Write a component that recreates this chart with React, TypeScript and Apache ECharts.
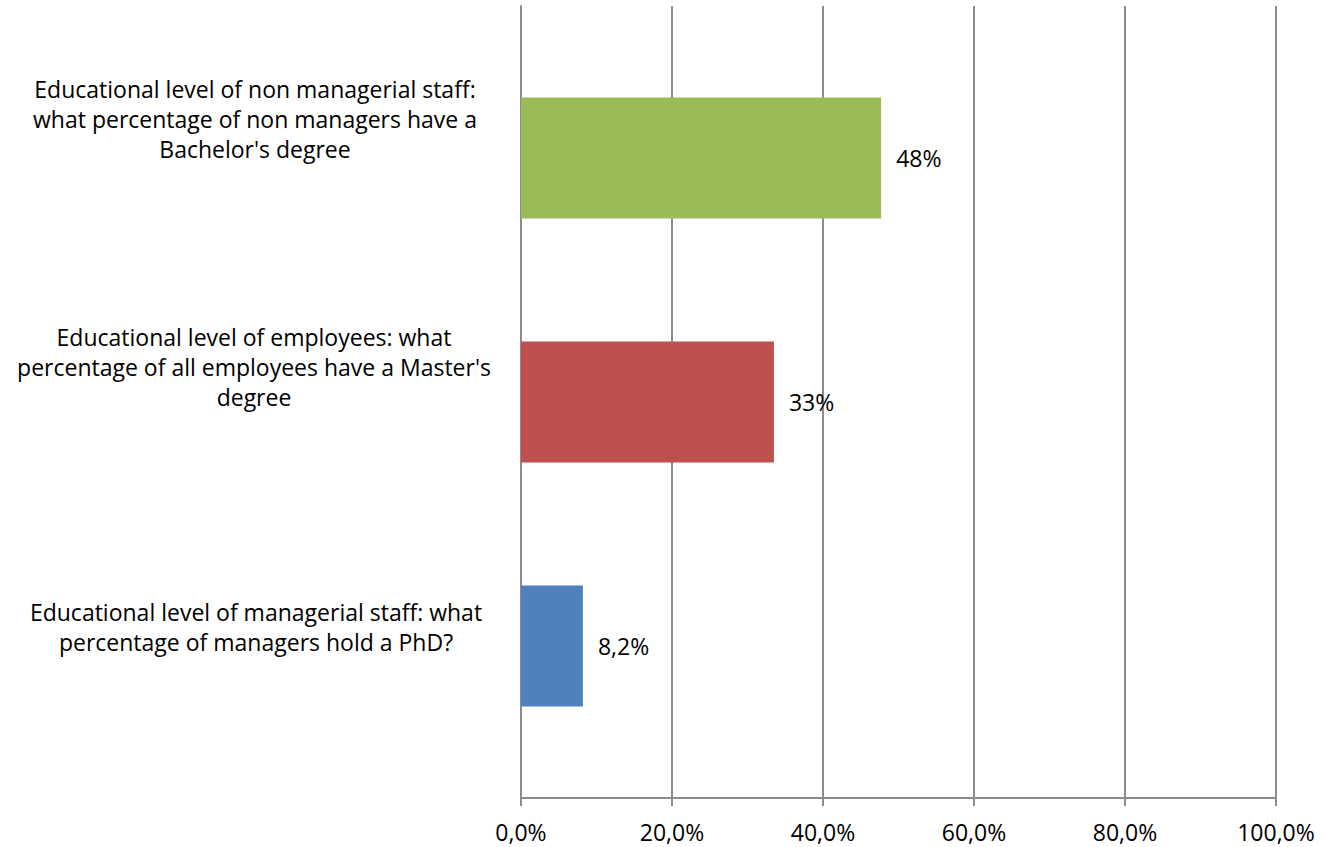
import React, { useEffect, useRef } from "react";
import * as echarts from "echarts";

// Data (top to bottom, as drawn)
const seriesNames = [
  "Educational level of non managerial staff:\nwhat percentage of non managers have a\nBachelor's degree",
  "Educational level of employees: what\npercentage of all employees have a Master's\ndegree",
  "Educational level of managerial staff: what\npercentage of managers hold a PhD?",
];
const values = [47.7, 33.5, 8.2];
const dataLabels = ["48%", "33%", "8,2%"];
const colors = ["#9BBB59", "#C0504D", "#4F81BD"];
const xTicks = [0, 20, 40, 60, 80, 100];

// text box layout (centre of each label block)
const labelBoxes = [
  { x: 255, y: 119 },
  { x: 254, y: 367 },
  { x: 256, y: 627 },
];

const FONT = "'Open Sans', 'Noto Sans', sans-serif";
const FS = 23;

export default function App() {
  const ref = useRef<HTMLDivElement>(null);
  useEffect(() => {
    if (!ref.current) return;
    const chart = echarts.init(ref.current, null, { renderer: "svg" });
    const option: any = {
      animation: false,
      backgroundColor: "#ffffff",
      textStyle: { fontFamily: FONT },
      grid: { left: 521, right: 48, top: 6, bottom: 49, containLabel: false },
      xAxis: {
        type: "value",
        min: xTicks[0],
        max: xTicks[xTicks.length - 1],
        interval: 20,
        axisLine: { show: true, lineStyle: { color: "#8c8c8c", width: 2 } },
        axisTick: { show: true, length: 8, lineStyle: { color: "#8c8c8c", width: 2 } },
        splitLine: { show: true, lineStyle: { color: "#8c8c8c", width: 2 } },
        axisLabel: {
          margin: 22,
          color: "#000",
          fontSize: FS,
          fontFamily: FONT,
          formatter: (v: number) => v.toFixed(1).replace(".", ",") + "%",
        },
      },
      yAxis: {
        type: "category",
        data: [""],
        axisLine: { show: true, lineStyle: { color: "#8c8c8c", width: 2 } },
        axisTick: { show: false },
        axisLabel: { show: false },
        splitLine: { show: false },
      },
      series: values.map((v, i) => ({
        type: "bar",
        name: seriesNames[i],
        data: [v],
        barWidth: 121,
        barGap: "101.7%",
        itemStyle: { color: colors[i] },
        label: {
          show: true,
          position: "right",
          distance: 15,
          color: "#000",
          fontSize: FS,
          fontFamily: FONT,
          formatter: () => dataLabels[i],
        },
      })),
      graphic: seriesNames.map((name, i) => ({
        type: "text",
        x: labelBoxes[i].x,
        y: labelBoxes[i].y,
        style: {
          text: name,
          fill: "#000",
          font: `${FS}px ${FONT}`,
          lineHeight: 30,
          textAlign: "center",
          textVerticalAlign: "middle",
        },
      })),
    };
    chart.setOption(option);
    return () => chart.dispose();
  }, []);
  return (
    <div
      ref={ref}
      style={{ position: "fixed", left: 0, top: 0, width: 1324, height: 847 }}
    />
  );
}
